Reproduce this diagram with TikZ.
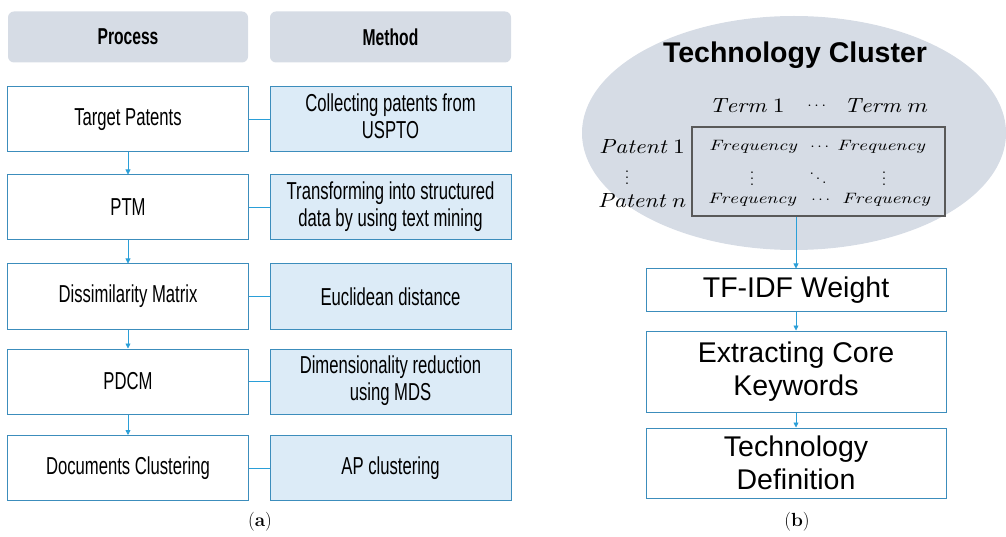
\RequirePackage{fix-cm}
\documentclass[tikz,border=0pt]{standalone}
\usepackage{amsmath}
\usepackage{fontspec}
\setsansfont{Liberation Sans}
\usetikzlibrary{arrows.meta}
\definecolor{hdr}{HTML}{D6DCE5}
\definecolor{bord}{HTML}{3C8DBC}
\definecolor{mfill}{HTML}{DCEBF7}
\definecolor{arr}{HTML}{2A9FD8}
\definecolor{mat}{HTML}{595959}
\newcommand{\cnd}[1]{\scalebox{0.68}[1]{#1}}
\newcommand{\mbg}[1]{\scalebox{2.35}[2.05]{$#1$}}
\newcommand{\msm}[1]{\scalebox{1.95}[1.5]{$#1$}}
\newcommand{\mdt}[1]{\scalebox{1.6}[1.5]{$#1$}}
\begin{document}
\begin{tikzpicture}[x=1pt,y=-1pt,
  hdrbox/.style={fill=hdr,rounded corners=6pt,draw=none},
  probox/.style={draw=bord,line width=1pt,fill=white},
  metbox/.style={draw=bord,line width=1pt,fill=mfill},
  link/.style={draw=arr,line width=0.8pt},
  flow/.style={draw=arr,line width=0.8pt,-{Triangle[length=5pt,width=5pt]}},
  ltxt/.style={font=\sffamily\fontsize{24.5}{27}\selectfont,align=center},
  htxt/.style={font=\sffamily\bfseries\fontsize{23}{26}\selectfont},
  rtxt/.style={font=\sffamily\fontsize{28.5}{33}\selectfont,align=center},
  mtx/.style={inner sep=0pt},
  captxt/.style={font=\fontsize{19}{22}\selectfont}]
\useasboundingbox (0,0) rectangle (1006,537);
% headers
\node[hdrbox,minimum width=240pt,minimum height=51pt] (hp) at (128,37) {};
\node[htxt] at (hp) {\cnd{Process}};
\node[hdrbox,minimum width=241pt,minimum height=51pt] (hm) at (390.5,37) {};
\node[htxt] at (hm) {\cnd{Method}};
% process boxes
\foreach \n/\yy/\t in {p1/119.5/Target Patents,p2/207.5/PTM,p3/296.5/Dissimilarity Matrix,p4/381.5/PDCM,p5/468/Documents Clustering}{
  \node[probox,minimum width=241pt,minimum height=65pt] (\n) at (128,\yy) {};
  \node[ltxt] at (\n) {\cnd{\t}};
}
\node[metbox,minimum width=241pt,minimum height=65pt] (m1) at (390.5,119.5) {};
\node[ltxt] at (m1) {\cnd{\begin{tabular}{@{}c@{}}Collecting patents from\\USPTO\end{tabular}}};
\node[metbox,minimum width=241pt,minimum height=65pt] (m2) at (390.5,207.5) {};
\node[ltxt] at (m2) {\cnd{\begin{tabular}{@{}c@{}}Transforming into structured\\data by using text mining\end{tabular}}};
\node[metbox,minimum width=241pt,minimum height=65pt] (m3) at (390.5,296.5) {};
\node[ltxt] at (m3) {\cnd{Euclidean distance}};
\node[metbox,minimum width=241pt,minimum height=65pt] (m4) at (390.5,381.5) {};
\node[ltxt] at (m4) {\cnd{\begin{tabular}{@{}c@{}}Dimensionality reduction\\using MDS\end{tabular}}};
\node[metbox,minimum width=241pt,minimum height=65pt] (m5) at (390.5,468) {};
\node[ltxt] at (m5) {\cnd{AP clustering}};
\foreach \i in {1,...,5}{\draw[link] (p\i.east) -- (m\i.west);}
\foreach \i/\j in {1/2,2/3,3/4,4/5}{\draw[flow] (p\i.south) -- (p\j.north);}
\node[captxt] (capa) at (260,522) {(\textbf{a})};
% right part
\fill[hdr] (794,133) ellipse [x radius=212, y radius=117];
\node[font=\sffamily\bfseries\fontsize{28.5}{32}\selectfont] (tc) at (795,55) {Technology Cluster};
\node[draw=mat,line width=2pt,minimum width=253pt,minimum height=89pt] (mx) at (818,172) {};
\node[mtx] (t1) at (747,106) {\mbg{\mathit{Term}\;1}};
\node[mtx] (td) at (818,106) {\mdt{\cdots}};
\node[mtx] (tm) at (886,106) {\mbg{\mathit{Term}\;m}};
\node[mtx] (pa1) at (642,147) {\mbg{\mathit{Patent}\;1}};
\node[mtx] (pav) at (627,173) {\mdt{\vdots}};
\node[mtx] (pan) at (642,201) {\mbg{\mathit{Patent}\;n}};
\node[mtx] (f11) at (753,147) {\msm{\mathit{Frequency}}};
\node[mtx] (f1d) at (821,147) {\mdt{\cdots}};
\node[mtx] (f1m) at (881,147) {\msm{\mathit{Frequency}}};
\node[mtx] (fv1) at (752,174) {\mdt{\vdots}};
\node[mtx] (fdd) at (818,174) {\mdt{\ddots}};
\node[mtx] (fvm) at (884,174) {\mdt{\vdots}};
\node[mtx] (fn1) at (752,200) {\msm{\mathit{Frequency}}};
\node[mtx] (fnd) at (822,200) {\mdt{\cdots}};
\node[mtx] (fnm) at (886,200) {\msm{\mathit{Frequency}}};
\node[probox,minimum width=300pt,minimum height=42pt] (b1) at (796,290) {};
\node[rtxt] at (b1) {TF-IDF Weight};
\node[probox,minimum width=300pt,minimum height=81pt] (b2) at (796,371.5) {};
\node[rtxt] at (b2) {Extracting Core\\Keywords};
\node[probox,minimum width=300pt,minimum height=70pt] (b3) at (796,463) {};
\node[rtxt] at (b3) {Technology\\Definition};
\draw[flow] (b1.north |- mx.south) -- (b1.north);
\draw[flow] (b1.south) -- (b2.north);
\draw[flow] (b2.south) -- (b3.north);
\node[captxt] (capb) at (797,522) {(\textbf{b})};
\end{tikzpicture}
\end{document}
